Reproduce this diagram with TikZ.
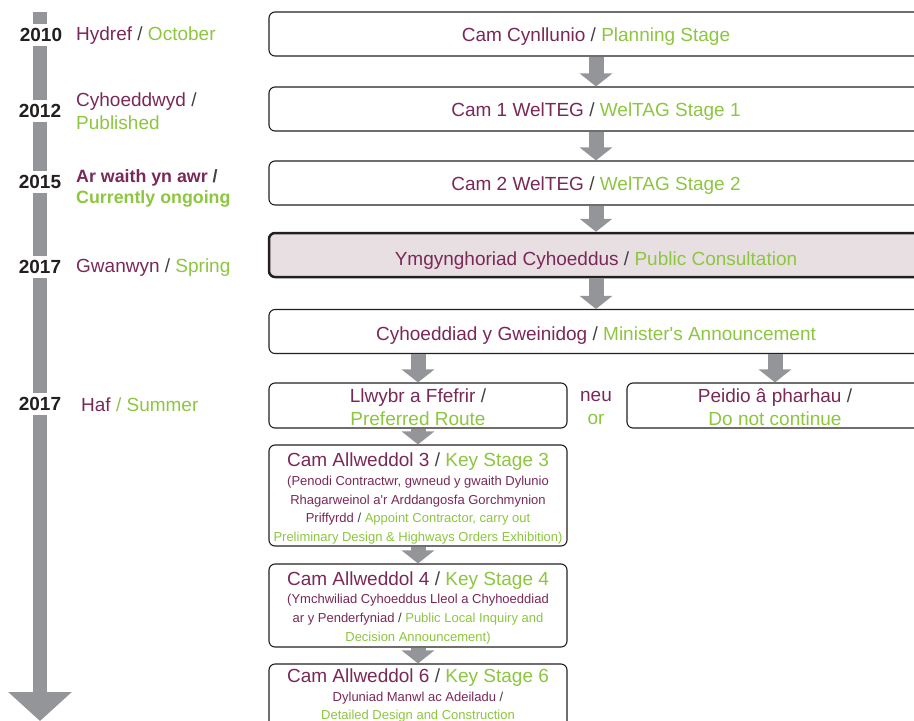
\documentclass[tikz,border=0pt]{standalone}
\usepackage{fontspec}
\setmainfont{Liberation Sans}
\usetikzlibrary{arrows.meta}
\definecolor{cypurple}{RGB}{122,40,88}
\definecolor{engreen}{RGB}{141,198,63}
\definecolor{flowgray}{RGB}{147,149,152}
\definecolor{boxline}{RGB}{35,31,32}
\definecolor{slashgray}{RGB}{65,64,66}
\definecolor{consultfill}{RGB}{232,223,227}
\newcommand{\cy}[1]{\textcolor{cypurple}{#1}}
\newcommand{\en}[1]{\textcolor{engreen}{#1}}
\newcommand{\sep}{\textcolor{slashgray}{/}}
\newcommand{\mainsize}{\fontsize{19}{23}\selectfont}
\newcommand{\finesize}{\fontsize{13}{18.7}\selectfont}
\newcommand{\lift}[1]{\rule{0pt}{#1}}

\tikzset{
  stage/.style={draw=boxline, line width=1.1pt, rounded corners=6pt, fill=white, align=center},
  wide/.style={stage, font=\mainsize, minimum width=654pt, minimum height=44pt, text height=15.6pt, text depth=0pt},
  narrow/.style={stage, font=\finesize, minimum width=298pt, inner sep=1pt},
  year/.style={fill=white, font=\bfseries\mainsize, text=boxline, inner xsep=1pt, inner ysep=4pt, text height=13.6pt, text depth=0pt},
  when/.style={anchor=west, align=left, inner sep=0pt, font=\mainsize},
  flow/.style={flowgray, line width=15pt, -{Triangle[width=32pt,length=13pt]}},
}

\begin{document}
\begin{tikzpicture}[x=1pt,y=-1pt]
\useasboundingbox (0,0) rectangle (914,721);
\clip (0,0) rectangle (914,721);

% Timeline down the left side
\coordinate (tltop) at (40,12);
\coordinate (tlend) at (40,721);
\draw[flowgray, line width=14pt, -{Triangle[width=62pt,length=29pt]}] (tltop) -- (tlend);

% Years on the timeline
\node[year] (y2010) at (41,35)  {2010};
\node[year] (y2012) at (40,111) {2012};
\node[year] (y2015) at (40,182) {2015};
\node[year] (y2017a) at (40,267) {2017};
\node[year] (y2017b) at (40,404) {2017};

% When each stage happened
\node[when] (oct)  at (76,36)  {\cy{Hydref} \sep{} \en{October}};
\node[when] (pub)  at (76,111.5) {\cy{Cyhoeddwyd} \sep\\\en{Published}};
\node[when, font=\bfseries\fontsize{17.8}{21}\selectfont] (now) at (76,188) {\cy{Ar waith yn awr} \sep\\\en{Currently ongoing}};
\node[when] (spr)  at (76,268) {\cy{Gwanwyn} \sep{} \en{Spring}};
\node[when] (sum)  at (81,404.5) {\cy{Haf} \en{/ Summer}};

% Main column of stages
\node[wide] (plan) at (596,34) {\cy{Cam Cynllunio} \sep{} \en{Planning Stage}};
\node[wide] (tag1) at (596,109) {\cy{Cam 1 WelTEG} \sep{} \en{WelTAG Stage 1}};
\node[wide] (tag2) at (596,183) {\cy{Cam 2 WelTEG} \sep{} \en{WelTAG Stage 2}};
\node[wide, fill=consultfill, line width=2.5pt, text height=21.6pt] (consult) at (596,255) {\cy{Ymgynghoriad Cyhoeddus} \sep{} \en{Public Consultation}};
\node[wide, text height=17.6pt] (minister) at (596,331.5) {\cy{Cyhoeddiad y Gweinidog} \sep{} \en{Minister\textquotesingle s Announcement}};

% Decision
\node[narrow, font=\mainsize, minimum height=45pt] (route) at (418,405.5) {\lift{18pt}\cy{Llwybr a Ffefrir} \sep\\\en{Preferred Route}};
\node[align=center, font=\mainsize, inner sep=0pt] (neu) at (596,407.5) {\cy{neu}\\\en{or}};
\node[stage, font=\mainsize, minimum width=296pt, minimum height=45pt, inner sep=1pt] (stop) at (775,405.5) {\lift{18pt}\cy{Peidio â pharhau} \sep\\\en{Do not continue}};

% Key stages
\node[narrow, minimum height=101pt] (ks3) at (418,495.5) {%
  \mainsize\lift{20pt}\cy{Cam Allweddol 3} \sep{} \en{Key Stage 3}\\
  \cy{(Penodi Contractwr, gwneud y gwaith Dylunio}\\
  \cy{Rhagarweinol a\textquotesingle r Arddangosfa Gorchmynion}\\
  \cy{Priffyrdd} \sep{} \en{Appoint Contractor, carry out}\\
  \en{Preliminary Design \& Highways Orders Exhibition)}};
\node[narrow, minimum height=83pt] (ks4) at (418,605.5) {%
  \mainsize\lift{18pt}\cy{Cam Allweddol 4} \sep{} \en{Key Stage 4}\\
  \cy{(Ymchwiliad Cyhoeddus Lleol a Chyhoeddiad}\\
  \cy{ar y Penderfyniad} \sep{} \en{Public Local Inquiry and}\\
  \en{Decision Announcement)}};
\node[narrow, minimum height=63pt] (ks6) at (418,695.5) {%
  \mainsize\lift{14pt}\cy{Cam Allweddol 6} \sep{} \en{Key Stage 6}\\
  \cy{Dyluniad Manwl ac Adeiladu} \sep\\
  \en{Detailed Design and Construction}};

% Flow arrows
\draw[flow] (plan.south) -- (tag1.north);
\draw[flow] (tag1.south) -- (tag2.north);
\draw[flow] (tag2.south) -- (consult.north);
\draw[flow] (consult.south) -- (minister.north);
\draw[flow] (route.north |- minister.south) -- (route.north);
\draw[flow] (stop.north |- minister.south) -- (stop.north);
\draw[flow] (route.south) -- (ks3.north);
\draw[flow] (ks3.south) -- (ks4.north);
\draw[flow] (ks4.south) -- (ks6.north);

\end{tikzpicture}
\end{document}
